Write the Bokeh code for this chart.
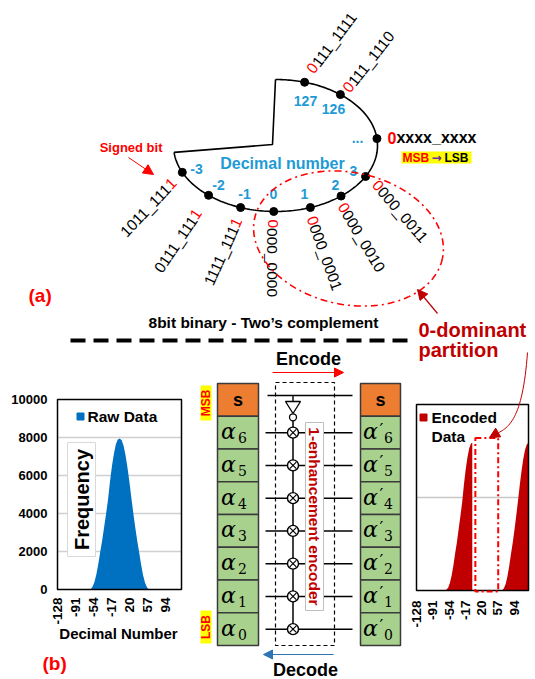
import numpy as np
from bokeh.plotting import figure
from bokeh.models import Range1d, Arrow, NormalHead
from bokeh.core.properties import value
from bokeh.embed import file_html
from bokeh.resources import INLINE

# ---------------- data ----------------
hist_ticks = [-128, -91, -54, -17, 20, 57, 94]
freq_ticks = [0, 2000, 4000, 6000, 8000, 10000]
raw_x = [-60, -56, -52, -48, -44, -40, -36, -32, -28, -24, -20, -16, -12, -8, -4, 0,
         4, 8, 12, 16, 20, 24, 28, 32, 36, 40, 44, 48, 52, 56, 60]
raw_freq = [0, 150, 400, 800, 1350, 2000, 2600, 3300, 4000, 4750, 5700, 6500, 7150, 7650, 7900, 7950,
            7850, 7550, 7050, 6400, 5650, 4800, 4000, 3250, 2550, 1950, 1300, 750, 350, 120, 0]
enc_neg_x = [-62, -56, -52, -48, -44, -40, -36, -32, -28, -24, -20, -16, -12, -8, -4, -1]
enc_neg_freq = [0, 150, 400, 800, 1350, 2000, 2600, 3300, 4000, 4750, 5700, 6500, 7150, 7650, 7900, 7950]
enc_pos_x = [67, 71, 75, 79, 83, 87, 91, 95, 99, 103, 107, 111, 115, 119, 123, 127]
enc_pos_freq = [0, 120, 350, 750, 1300, 1950, 2550, 3250, 4000, 4800, 5650, 6400, 7050, 7550, 7850, 7950]
partition_range = [6, 58]
decimal_labels = ["-3", "-2", "-1", "0", "1", "2", "3", "126", "127"]
bit_rows = ["s", "6", "5", "4", "3", "2", "1", "0"]

W, H = 535, 679
FONT = "Liberation Sans"
RED = "#ff0000"
DRED = "#c00000"
BLUE = "#1e9ad6"
FIG_SP = "\u2007"

p = figure(width=W, height=H, x_range=Range1d(0, W), y_range=Range1d(H, 0),
           output_backend="svg", toolbar_location=None, min_border=0,
           x_axis_location=None, y_axis_location=None)
p.grid.visible = False
p.outline_line_color = None
p.background_fill_color = "white"
p.border_fill_color = "white"


def txt(x, y, s, size, color="black", bold=True, align="center", baseline="middle",
        angle=0.0, font=FONT, italic=False):
    style = "normal"
    if bold and italic:
        style = "bold italic"
    elif bold:
        style = "bold"
    elif italic:
        style = "italic"
    p.text(x=[x], y=[y], text=[s], text_font=value(font), text_font_size=f"{size}px",
           text_color=color, text_font_style=style, text_align=align,
           text_baseline=baseline, angle=np.deg2rad(angle))


def code_text(ax, ay, angle, code, size, red_first=True):
    # black digits with a figure-space placeholder, sign-relevant digit drawn in red
    if red_first:
        txt(ax, ay, FIG_SP + code[1:], size, "black", bold=False, align="left", angle=angle)
        txt(ax, ay, code[0], size, RED, bold=False, align="left", angle=angle)
    else:
        txt(ax, ay, code[:-1] + FIG_SP, size, "black", bold=False, align="right", angle=angle)
        txt(ax, ay, code[-1], size, RED, bold=False, align="right", angle=angle)


def arrow(x0, y0, x1, y1, color, size=9, width=1.2):
    p.add_layout(Arrow(end=NormalHead(size=size, fill_color=color, line_color=color),
                       x_start=x0, y_start=y0, x_end=x1, y_end=y1,
                       line_color=color, line_width=width))


# ---------------- (a) number circle ----------------
cx, cy, rx, ry = 275, 145, 102, 66
t = np.deg2rad(np.linspace(-90, 174, 240))
arc_x = cx + rx * np.cos(t)
arc_y = cy + ry * np.sin(t)
p.line(arc_x, arc_y, line_color="black", line_width=1.6)
p.line([arc_x[0], 272, arc_x[-1]], [arc_y[0], 144, arc_y[-1]], line_color="black", line_width=1.6)

dot_ang = np.deg2rad([156, 131, 110, 91, 70, 50, 28, -50.5, -73.4, -6])
p.scatter(cx + rx * np.cos(dot_ang), cy + ry * np.sin(dot_ang), size=8, color="black")

lab_pos = [(196, 168), (218, 184), (244, 193), (273, 193), (304, 193), (335, 184), (353, 170),
           (333, 108), (305, 100)]
for s, (x, y) in zip(decimal_labels, lab_pos):
    txt(x, y, s, 14, BLUE)
txt(357, 137, "...", 14, BLUE)
txt(282, 163, "Decimal number", 16, BLUE)

# binary codes
FS = 15.5
code_text(309.6, 71.2, 53, "0111_1111", FS)
code_text(345.6, 90.2, 52, "0111_1110", FS)
code_text(374.4, 182, -49, "0000_0011", FS)
code_text(341, 203.6, -59, "0000_0010", FS)
code_text(310.7, 216.2, -70, "0000_0001", FS)
code_text(272, 219, -90, "0000_0000", FS)
code_text(237.5, 218.4, 65.5, "1111_1111", FS, red_first=False)
code_text(198, 210, 56, "0111_1111", FS, red_first=False)
code_text(173.5, 180, 46.5, "1011_1111", FS, red_first=False)

txt(387, 137, FIG_SP + "xxxx_xxxx", 16, "black", align="left")
txt(387, 137, "0", 16, RED, align="left")
p.quad(left=[401], right=[471], top=[151], bottom=[163], fill_color="#ffff00", line_color=None)
txt(402, 157, "MSB", 12, RED, align="left")
txt(436, 157, "\u2192", 12, "#7030a0", font="DejaVu Sans")
txt(444, 157, "LSB", 12, "black", align="left")

txt(162, 147, "Signed bit", 13, RED, align="right")
arrow(128, 157, 153, 174, RED, size=10, width=1.0)

# 0-dominant partition ellipse
th = np.deg2rad(12)
tt = np.linspace(0, 2 * np.pi, 300)
ex = 348 + 96 * np.cos(tt) * np.cos(th) - 66 * np.sin(tt) * np.sin(th)
ey = 238 + 96 * np.cos(tt) * np.sin(th) + 66 * np.sin(tt) * np.cos(th)
p.line(ex, ey, line_color=RED, line_width=1.6, line_dash="7 4 2 4")

txt(28, 295, "(a)", 19, RED, align="left")
txt(263, 322, "8bit binary - Two\u2019s complement", 15.5)
p.line([70, 410], [340, 340], line_color="black", line_width=4, line_dash="15 8")
txt(418, 329, "0-dominant", 20, DRED, align="left")
txt(418, 349, "partition", 20, DRED, align="left")
arrow(437, 313, 417, 289, DRED, size=10, width=1.2)

# ---------------- (b) encoder ----------------
txt(308, 358, "Encode", 18)
arrow(272, 372, 343, 372, RED, size=9, width=1.2)
txt(305, 669, "Decode", 18)
arrow(333, 654, 263, 654, "#2e75b6", size=9, width=1.2)
txt(42, 663, "(b)", 19, RED, align="left")

top0, rh = 383.0, 32.75
tops = [top0 + i * rh for i in range(8)]
cents = [tp + rh / 2 for tp in tops]
fills = ["#ed7d31"] + ["#a9d18e"] * 7

# encoder lines
for i, yc in enumerate(cents):
    if i == 0:
        p.line([267, 352], [395, 395], line_color="black", line_width=1.5)
    else:
        p.line([265, 352], [yc, yc], line_color="black", line_width=1.5)
p.quad(left=[275], right=[334], top=[382], bottom=[645], fill_color=None,
       line_color="black", line_width=1.2, line_dash="4 3")
xv = 292.5
p.line([xv, xv], [395, 401], line_color="black", line_width=1.4)
p.patch([285, 300, xv], [401, 401, 413], fill_color="white", line_color="black", line_width=1.3)
p.line([xv, xv], [420, cents[-1]], line_color="black", line_width=1.5)
p.scatter([xv], [416.8], size=7, marker="circle", fill_color="white", line_color="black", line_width=1.3)
xs_c = [xv] * 7
p.scatter(xs_c, cents[1:], size=11, marker="circle", fill_color="white", line_color="black", line_width=1.4)
d = 3.3
p.segment(x0=[xv - d] * 7, y0=[c - d for c in cents[1:]], x1=[xv + d] * 7, y1=[c + d for c in cents[1:]],
          line_color="black", line_width=1.2)
p.segment(x0=[xv - d] * 7, y0=[c + d for c in cents[1:]], x1=[xv + d] * 7, y1=[c - d for c in cents[1:]],
          line_color="black", line_width=1.2)

p.quad(left=[305], right=[323], top=[422], bottom=[610], fill_color="white", line_color="#bfbfbf", line_width=1)
txt(314, 516, "1-enhancement encoder", 15.5, DRED, angle=-90)

for col_l, col_r, primed in [(217, 258, False), (360, 400, True)]:
    p.quad(left=[col_l] * 8, right=[col_r] * 8, top=tops, bottom=[tp + rh for tp in tops],
           fill_color=fills, line_color="#3a3a3a", line_width=1.5)
    for lab, yc in zip(bit_rows, cents):
        if lab == "s":
            txt((col_l + col_r) / 2, yc, "s", 18)
        elif not primed:
            txt(228, yc - 1, "\u03b1", 22, bold=False, italic=True, font="DejaVu Serif")
            txt(242, yc + 5, lab, 14, bold=False, font="DejaVu Serif")
        else:
            txt(370, yc - 1, "\u03b1", 22, bold=False, italic=True, font="DejaVu Serif")
            txt(381, yc - 4, "\u2032", 17, bold=False, font="DejaVu Serif")
            txt(388, yc + 5, lab, 14, bold=False, font="DejaVu Serif")

p.quad(left=[200], right=[211], top=[385], bottom=[420], fill_color="#ffff00", line_color=None)
txt(205.5, 402.5, "MSB", 12, RED, angle=90)
p.quad(left=[200], right=[211], top=[610], bottom=[643], fill_color="#ffff00", line_color=None)
txt(205.5, 626.5, "LSB", 12, RED, angle=90)

# ---------------- left histogram (raw) ----------------
L0, L1, LT, LB = 57, 181, 399, 589


def lx(v):
    return L0 + (np.asarray(v, dtype=float) + 128) / 255.0 * (L1 - L0)


def ly(v):
    return LB - np.asarray(v, dtype=float) / 10000.0 * (LB - LT)


gy = ly(freq_ticks[1:-1])
p.segment(x0=[L0] * len(gy), y0=gy, x1=[L1] * len(gy), y1=gy, line_color="#d0d0d0", line_width=1.5)
p.varea(x=lx(raw_x), y1=ly([0] * len(raw_x)), y2=ly(raw_freq), fill_color="#0070c0")
p.quad(left=[L0], right=[L1], top=[LT], bottom=[LB], fill_color=None, line_color="black", line_width=1.5)
for f in freq_ticks:
    txt(47, float(ly(f)), str(f), 13, align="right")
for tk in hist_ticks:
    txt(float(lx(tk)), 597, str(tk), 13.5, align="right", angle=90)
p.scatter([80], [416], marker="square", size=7, color="#0070c0")
txt(87, 416, "Raw Data", 15.5, align="left")
p.quad(left=[67], right=[95], top=[442], bottom=[556], fill_color="white", line_color="#d9d9d9", line_width=1)
txt(81, 499, "Frequency", 20, angle=90)
txt(118, 633, "Decimal Number", 15)

# ---------------- right histogram (encoded) ----------------
R0, R1, RT, RB = 416, 528, 404, 590


def rxf(v):
    return R0 + (np.asarray(v, dtype=float) + 128) / 255.0 * (R1 - R0)


def ryf(v):
    return RB - np.asarray(v, dtype=float) / 10000.0 * (RB - RT)


p.segment(x0=[R0], y0=[float(ryf(5000))], x1=[R1], y1=[float(ryf(5000))], line_color="#c8c8c8", line_width=1.5)
p.varea(x=rxf(enc_neg_x), y1=ryf([0] * len(enc_neg_x)), y2=ryf(enc_neg_freq), fill_color=DRED)
p.varea(x=rxf(enc_pos_x), y1=ryf([0] * len(enc_pos_x)), y2=ryf(enc_pos_freq), fill_color=DRED)
p.quad(left=[R0], right=[R1], top=[RT], bottom=[RB], fill_color=None, line_color="black", line_width=1.5)
for tk in hist_ticks:
    txt(float(rxf(tk)), 600, str(tk), 13.5, align="right", angle=90)
p.scatter([423], [417], marker="square", size=7, color=DRED)
txt(431, 417, "Encoded", 15.5, align="left")
txt(431, 436, "Data", 15.5, align="left")
px0, px1 = float(rxf(partition_range[0])), float(rxf(partition_range[1]))
p.quad(left=[px0], right=[px1], top=[float(ryf(8200))], bottom=[float(ryf(-60))], fill_color=None,
       line_color=RED, line_width=2, line_dash="6 3 2 3")

# curved pointer
p.bezier(x0=[527], y0=[352], x1=[494], y1=[434], cx0=[522], cy0=[420], cx1=[508], cy1=[428],
         line_color=DRED, line_width=1.0)
arrow(496, 433, 489, 437, DRED, size=10, width=1.0)

open("out.html", "w").write(file_html(p, INLINE))
